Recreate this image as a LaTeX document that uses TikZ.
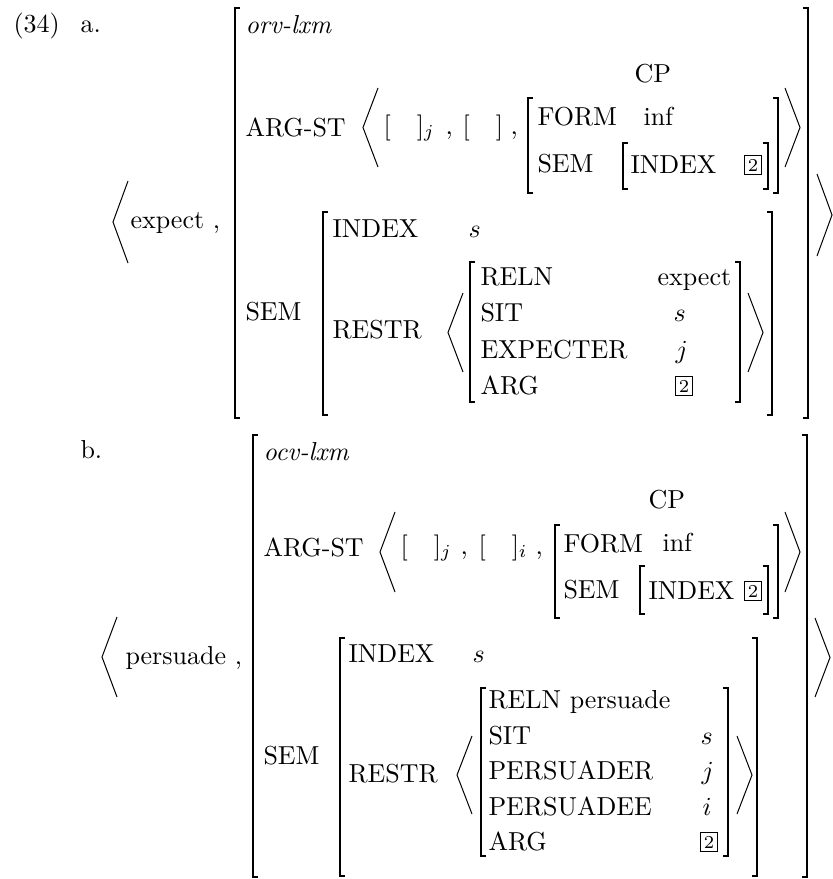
\documentclass[tikz,border=0pt]{standalone}
\newcommand\avmL[3]{\draw[brk] (#1+5,#2) -- (#1,#2) -- (#1,#3) -- (#1+5,#3);}
\newcommand\avmR[3]{\draw[brk] (#1-5,#2) -- (#1,#2) -- (#1,#3) -- (#1-5,#3);}
\newcommand\angL[3]{\draw[ang] (#1+15,#2) -- (#1,{(#2+#3)/2}) -- (#1+15,#3);}
\newcommand\angR[3]{\draw[ang] (#1-15,#2) -- (#1,{(#2+#3)/2}) -- (#1-15,#3);}
\tikzset{
  txt/.style={anchor=base west,inner sep=0pt,scale=2.6},
  tagbox/.style={draw,line width=1.1pt,inner sep=0pt,scale=2.6,minimum width=6.4pt,minimum height=7.4pt,font=\scriptsize},
  brk/.style={line width=1.2pt},
  ang/.style={line width=1pt}
}
\begin{document}
\begin{tikzpicture}[x=1pt,y=-1pt]
  \useasboundingbox (0,0) rectangle (833,879);
  % (a) expect
  \node[txt] (a-num) at (13,32) {(34)};
  \node[txt] (a-lab) at (80,32) {a.};
  \node[txt] (a-word) at (130,228) {expect ,};
  \angL{113}{181}{263} \angR{832}{174}{256}
  \avmL{235}{8}{418} \avmR{808}{8}{418}
  \node[txt] (a-type) at (245,33) {\textit{orv-lxm}};
  \node[txt] (a-argst) at (245,136) {ARG-ST};
  \angL{363}{88}{167} \angR{800}{88}{167}
  \node[txt] (a-np1) at (383,134) {[\quad]$_j$};
  \node[txt] (a-c1) at (445,134) {,};
  \node[txt] (a-np2) at (462,134) {[\quad]};
  \node[txt] (a-c2) at (510,134) {,};
  \node[txt] (a-cp) at (634,82) {CP};
  \avmL{528}{98}{193} \avmR{778}{98}{193}
  \node[txt] (a-form) at (537,125) {FORM};
  \node[txt] (a-inf) at (643,125) {inf};
  \node[txt] (a-csem) at (537,172) {SEM};
  \avmL{623}{143}{189} \avmR{768}{143}{189}
  \node[txt] (a-cidx) at (630,173) {INDEX};
  \node[tagbox] (a-t1) at (753,165) {2};
  \node[txt] (a-sem) at (245,320) {SEM};
  \avmL{323}{212}{415} \avmR{772}{212}{415}
  \node[txt] (a-idx) at (332,237) {INDEX};
  \node[txt] (a-s) at (468,237) {$s$};
  \node[txt] (a-restr) at (332,338) {RESTR};
  \angL{448}{293}{372} \angR{763}{293}{372}
  \avmL{470}{262}{402} \avmR{740}{262}{402}
  \node[txt] (a-reln) at (480,285) {RELN};
  \node[txt] (a-sit) at (480,321) {SIT};
  \node[txt] (a-exper) at (480,358) {EXPECTER};
  \node[txt] (a-arg) at (480,394) {ARG};
  \node[txt] (a-vreln) at (657,285) {expect};
  \node[txt] (a-vsit) at (673,321) {$s$};
  \node[txt] (a-vexp) at (675,358) {$j$};
  \node[tagbox] (a-t2) at (684,386) {2};
  % (b) persuade
  \node[txt] (b-lab) at (80,458) {b.};
  \node[txt] (b-word) at (125,664) {persuade ,};
  \angL{102}{617}{697} \angR{830}{618}{697}
  \avmL{253}{435}{877} \avmR{807}{435}{877}
  \node[txt] (b-type) at (263,460) {\textit{ocv-lxm}};
  \node[txt] (b-argst) at (263,556) {ARG-ST};
  \angL{380}{512}{592} \angR{800}{512}{592}
  \node[txt] (b-np1) at (400,554) {[\quad]$_j$};
  \node[txt] (b-c1) at (460,554) {,};
  \node[txt] (b-np2) at (478,554) {[\quad]$_i$};
  \node[txt] (b-c2) at (535,554) {,};
  \node[txt] (b-cp) at (648,508) {CP};
  \avmL{555}{525}{618} \avmR{778}{525}{618}
  \node[txt] (b-form) at (563,552) {FORM};
  \node[txt] (b-inf) at (662,551) {inf};
  \node[txt] (b-csem) at (563,598) {SEM};
  \avmL{640}{566}{614} \avmR{768}{566}{614}
  \node[txt] (b-cidx) at (648,599) {INDEX};
  \node[tagbox] (b-t1) at (753,591) {2};
  \node[txt] (b-sem) at (263,764) {SEM};
  \avmL{340}{638}{876} \avmR{757}{638}{876}
  \node[txt] (b-idx) at (348,662) {INDEX};
  \node[txt] (b-s) at (472,662) {$s$};
  \node[txt] (b-restr) at (348,782) {RESTR};
  \angL{457}{736}{814} \angR{752}{736}{814}
  \avmL{481}{688}{856} \avmR{728}{688}{856}
  \node[txt] (b-reln) at (488,708) {RELN persuade};
  \node[txt] (b-sit) at (488,744) {SIT};
  \node[txt] (b-pser) at (488,779) {PERSUADER};
  \node[txt] (b-psee) at (488,815) {PERSUADEE};
  \node[txt] (b-arg) at (488,850) {ARG};
  \node[txt] (b-vsit) at (700,744) {$s$};
  \node[txt] (b-vser) at (701,779) {$j$};
  \node[txt] (b-vsee) at (702,815) {$i$};
  \node[tagbox] (b-t2) at (709,842) {2};
\end{tikzpicture}
\end{document}
